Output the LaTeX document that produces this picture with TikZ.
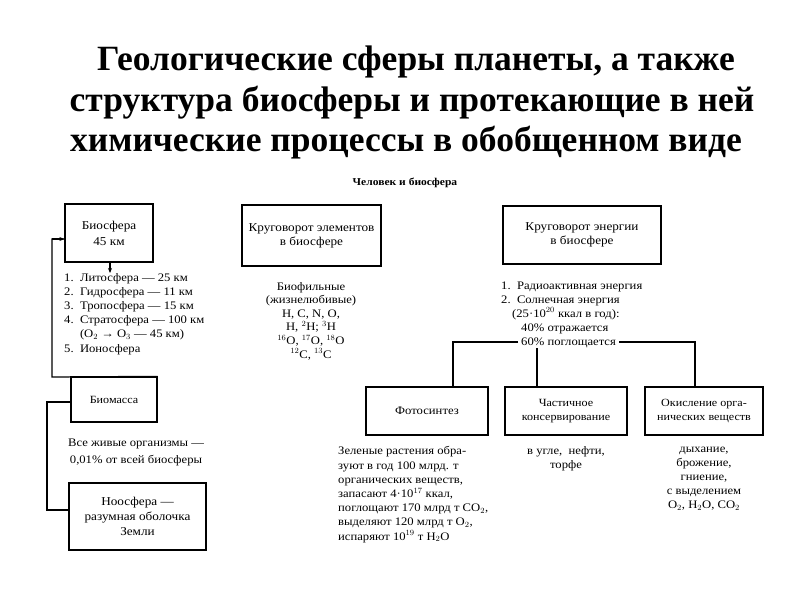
\documentclass[tikz,border=0pt]{standalone}
\usepackage{fontspec}
\setmainfont{Liberation Serif}
\newfontfamily\dg[FakeStretch=1.1]{Liberation Serif}
\usetikzlibrary{arrows.meta}
\begin{document}
\begin{tikzpicture}[x=1pt,y=-1pt,
  box/.style={draw, line width=1.3pt, align=center, inner sep=0pt, font=\dg\fontsize{12}{14}\selectfont},
  txt/.style={inner sep=0pt, font=\dg\fontsize{11.5}{14.2}\selectfont},
  conn/.style={line width=1.2pt},
  arr/.style={line width=1.2pt, -{Stealth[length=5pt,width=4pt]}},
  ttl/.style={inner sep=0pt, font=\fontsize{35.5}{40}\selectfont\bfseries}]
\useasboundingbox[fill=white] (0,0) rectangle (800,600);
% title
\node[ttl] (t1) at (416,62) {Геологические сферы планеты, а также};
\node[ttl] (t2) at (412,103) {структура биосферы и протекающие в ней};
\node[ttl] (t3) at (406,143) {химические процессы в обобщенном виде};
\node[inner sep=0pt, font=\dg\fontsize{10.5}{12}\selectfont\bfseries] (hdr) at (405,183) {Человек и биосфера};
% left column
\node[box, minimum width=88pt, minimum height=58pt, font=\dg\fontsize{12}{16}\selectfont] (bio) at (109,233) {Биосфера\\45 км};
\node[txt, anchor=north west, align=left] (list) at (64,273) {1.\ \ Литосфера — 25 км\\2.\ \ Гидросфера — 11 км\\3.\ \ Тропосфера — 15 км\\4.\ \ Стратосфера — 100 км\\\phantom{4.\ \ }(O$_2$ → O$_3$ — 45 км)\\5.\ \ Ионосфера};
\node[box, minimum width=86pt, minimum height=45pt, font=\dg\fontsize{11}{13}\selectfont] (mass) at (114,399.5) {Биомасса};
\node[txt, align=center, font=\dg\fontsize{11.5}{17}\selectfont] (all) at (136,452) {Все живые организмы —\\0,01\% от всей биосферы};
\node[box, minimum width=137pt, minimum height=67pt, font=\dg\fontsize{12}{15}\selectfont] (noo) at (137.5,516.5) {Ноосфера —\\разумная оболочка\\Земли};
\coordinate (lb) at (52,377);
\coordinate (lt) at (110,273);
\coordinate (mb) at (47,402);
\draw[conn] (mass.north east) -- (lb) |- ([yshift=-6pt]bio.west);
\draw[arr] (lb |- bio.west) ++(0,6) -- ([yshift=-6pt]bio.west);
\draw[arr] (bio.south -| lt) -- (lt);
\draw[conn] (mass.west |- mb) -- (mb) |- ([yshift=6.5pt]noo.west);
% middle column
\node[box, minimum width=139pt, minimum height=61pt] (elem) at (311.5,235.5) {Круговорот элементов\\в биосфере};
\node[txt, anchor=north, align=center, font=\dg\fontsize{11.5}{13.6}\selectfont] (biof) at (311,282) {Биофильные\\(жизнелюбивые)\\H, C, N, O,\\H, $^2$H; $^3$H\\$^{16}$O, $^{17}$O, $^{18}$O\\$^{12}$C, $^{13}$C};
% right column
\node[box, minimum width=158pt, minimum height=58pt] (ener) at (582,235) {Круговорот энергии\\в биосфере};
\node[txt, anchor=base west] (e1) at (501,289) {1.\ \ Радиоактивная энергия};
\node[txt, anchor=base west] (e2) at (501,303) {2.\ \ Солнечная энергия};
\node[txt, anchor=base west] (e3) at (512,317) {(25·10$^{20}$ ккал в год):};
\node[txt, anchor=base west] (e4) at (521,331) {40\% отражается};
\node[txt, anchor=base west] (e5) at (521,345.5) {60\% поглощается};
\node[box, minimum width=122pt, minimum height=48pt, font=\dg\fontsize{11.5}{14}\selectfont] (fot) at (427,411) {Фотосинтез};
\node[box, minimum width=122pt, minimum height=48pt, font=\dg\fontsize{11}{14}\selectfont] (cons) at (566,411) {Частичное\\консервирование};
\node[box, minimum width=118pt, minimum height=48pt, font=\dg\fontsize{11}{14}\selectfont] (oki) at (704,411) {Окисление орга-\\нических веществ};
\coordinate (jf) at (453,342);
\coordinate (jc) at (537,348);
\coordinate (jo) at (695,342);
\draw[conn] ([xshift=-3pt]e5.west |- jf) -- (jf) -- (jf |- fot.north);
\draw[conn] ([xshift=3pt]e5.east |- jo) -- (jo) -- (jo |- oki.north);
\draw[conn] (jc) -- (jc |- cons.north);
\node[txt, anchor=north west, align=left] (ftxt) at (338,446.5) {Зеленые растения обра-\\зуют в год 100 млрд. т\\органических веществ,\\запасают 4·10$^{17}$ ккал,\\поглощают 170 млрд т CO$_2$,\\выделяют 120 млрд т O$_2$,\\испаряют 10$^{19}$ т H$_2$O};
\node[txt, anchor=north, align=center] (ctxt) at (566,446.5) {в угле,\ \ нефти,\\торфе};
\node[txt, anchor=north, align=center] (otxt) at (704,446.5) {дыхание,\\брожение,\\гниение,\\с выделением\\O$_2$, H$_2$O, CO$_2$};
\end{tikzpicture}
\end{document}
